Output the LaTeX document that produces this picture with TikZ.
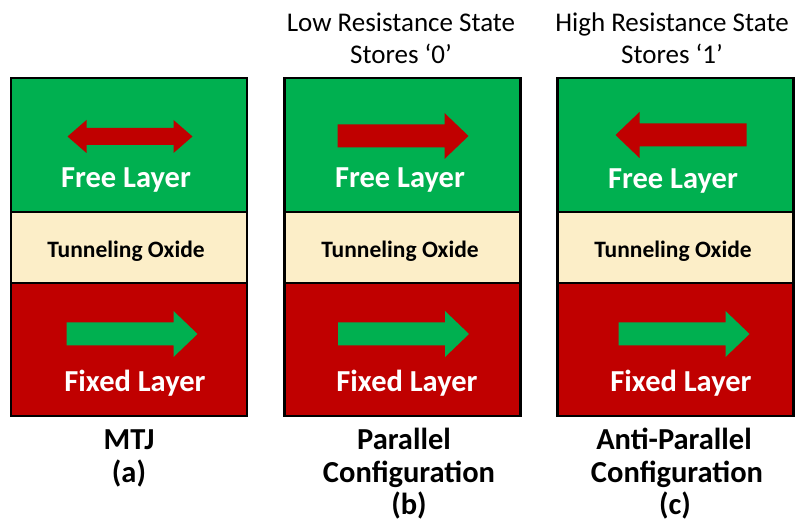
\documentclass[tikz,border=0pt]{standalone}
\usepackage{fontspec}
\setmainfont{Carlito}
\definecolor{lgreen}{RGB}{0,176,80}
\definecolor{lred}{RGB}{192,0,0}
\definecolor{lcream}{RGB}{252,238,200}
\tikzset{
  layerbox/.style={draw=black, line width=2.2pt, inner sep=0pt, minimum width=236pt},
  freebox/.style={layerbox, fill=lgreen, minimum height=134pt},
  oxidebox/.style={layerbox, fill=lcream, minimum height=71pt},
  fixedbox/.style={layerbox, fill=lred, minimum height=133pt},
  bigwhite/.style={anchor=base, inner sep=0pt, text=white, font=\bfseries\fontsize{30.5}{34}\selectfont},
  oxtext/.style={anchor=base, inner sep=0pt, text=black, font=\bfseries\fontsize{23.5}{27}\selectfont},
  toplabel/.style={anchor=base, inner sep=0pt, text=black, font=\fontsize{27}{31}\selectfont},
  botlabel/.style={anchor=base, inner sep=0pt, text=black, font=\bfseries\fontsize{30.5}{34}\selectfont},
  pics/rarrow/.style={code={\fill[#1] (-65.5,-11.5) -- (41.5,-11.5) -- (41.5,-23) -- (65.5,0) -- (41.5,23) -- (41.5,11.5) -- (-65.5,11.5) -- cycle;}},
  pics/dblarrow/.style={code={\fill[#1] (-62.5,0) -- (-43.5,-16.5) -- (-43.5,-8.5) -- (43.5,-8.5) -- (43.5,-16.5) -- (62.5,0) -- (43.5,16.5) -- (43.5,8.5) -- (-43.5,8.5) -- (-43.5,16.5) -- cycle;}}
}
\begin{document}
\begin{tikzpicture}[x=1pt, y=-1pt]
\useasboundingbox (0,0) rectangle (796,526);
% column a
\node[freebox]  (afree) at (129,145) {};
\node[oxidebox] (aox)   at (129,247.5) {};
\node[fixedbox] (afix)  at (129,349.5) {};
% column b
\node[freebox]  (bfree) at (402.5,145) {};
\node[oxidebox] (box)   at (402.5,247.5) {};
\node[fixedbox] (bfix)  at (402.5,349.5) {};
% column c
\node[freebox]  (cfree) at (675.5,145) {};
\node[oxidebox] (cox)   at (675.5,247.5) {};
\node[fixedbox] (cfix)  at (675.5,349.5) {};
% arrows
\pic at (130,136.5) {dblarrow=lred};
\pic at (132,334) {rarrow=lgreen};
\pic at (403,136) {rarrow=lred};
\pic at (403.5,334) {rarrow=lgreen};
\pic[xscale=-1] at (681,135) {rarrow=lred};
\pic at (684,334) {rarrow=lgreen};
% layer texts
\node[bigwhite] (afreet) at (126,188) {Free Layer};
\node[oxtext]   (aoxt)   at (126,258) {Tunneling Oxide};
\node[bigwhite] (afixt)  at (135,392) {Fixed Layer};
\node[bigwhite] (bfreet) at (400,188) {Free Layer};
\node[oxtext]   (boxt)   at (400,258) {Tunneling Oxide};
\node[bigwhite] (bfixt)  at (407,392) {Fixed Layer};
\node[bigwhite] (cfreet) at (673,189) {Free Layer};
\node[oxtext]   (coxt)   at (673,258) {Tunneling Oxide};
\node[bigwhite] (cfixt)  at (681,392) {Fixed Layer};
% top labels
\node[toplabel] (bt1) at (401,32) {Low Resistance State};
\node[toplabel] (bt2) at (401,64) {Stores ‘0’};
\node[toplabel] (ct1) at (672,32) {High Resistance State};
\node[toplabel] (ct2) at (672,64) {Stores ‘1’};
% bottom labels
\node[botlabel] (ab1) at (129,450) {MTJ};
\node[botlabel] (ab2) at (129,483) {(a)};
\node[botlabel] (bb1) at (404,450) {Parallel};
\node[botlabel] (bb2) at (409,483) {Configuration};
\node[botlabel] (bb3) at (409,515) {(b)};
\node[botlabel] (cb1) at (674,450) {Anti-Parallel};
\node[botlabel] (cb2) at (677,483) {Configuration};
\node[botlabel] (cb3) at (675,515) {(c)};
\end{tikzpicture}
\end{document}
